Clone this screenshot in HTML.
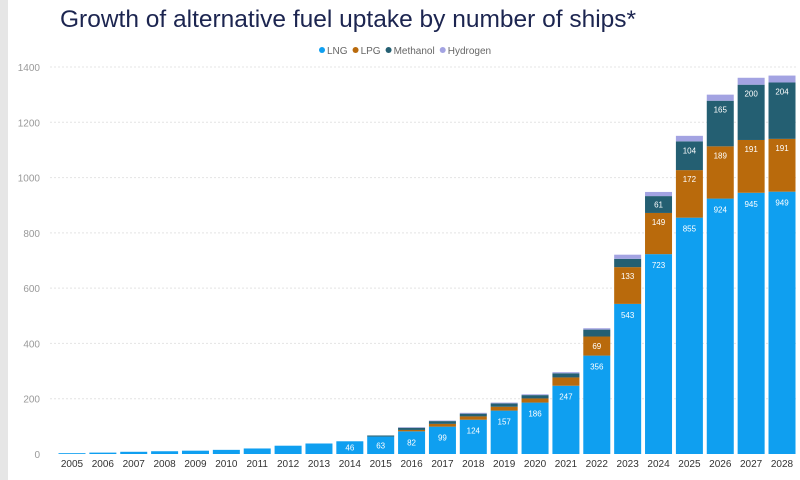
<!DOCTYPE html>
<html><head><meta charset="utf-8"><style>
body{margin:0;width:800px;height:480px;background:#fff;overflow:hidden;font-family:"Liberation Sans",sans-serif}
#edge{position:absolute;left:0;top:0;width:8px;height:480px;background:#e6e6e6}
h1{position:absolute;left:60px;top:6px;margin:0;font-size:24.5px;font-weight:normal;color:#1c2550}
</style></head><body>
<div id="edge"></div>
<h1>Growth of alternative fuel uptake by number of ships*</h1>
<svg id="c" width="800" height="480" style="position:absolute;left:0;top:0"></svg>
<script>
const years=['2005','2006','2007','2008','2009','2010','2011','2012','2013','2014','2015','2016','2017','2018','2019','2020','2021','2022','2023','2024','2025','2026','2027','2028'];
const lng=[3,5,8,10,12,15,20,30,38,46,63,82,99,124,157,186,247,356,543,723,855,924,945,949];
const lpg=[0,0,0,0,0,0,0,0,0,0,0,5,10,12,14,15,30,69,133,149,172,189,191,191];
const methanol=[0,0,0,0,0,0,0,0,0,0,4,8,10,10,12,12,15,25,30,61,104,165,200,204];
const hydrogen=[0,0,0,0,0,0,0,0,0,0,0,2,2,3,3,3,4,5,15,15,20,22,25,25];
const yTicks=[0,200,400,600,800,1000,1200,1400];
const labelMin=[40,60,60,0];
const series=[{n:'LNG',d:lng,c:'#0f9ff0'},{n:'LPG',d:lpg,c:'#b96a0c'},{n:'Methanol',d:methanol,c:'#245f72'},{n:'Hydrogen',d:hydrogen,c:'#a3a3e2'}];
const svg=document.getElementById('c'),NS='http://www.w3.org/2000/svg';
const y=v=>454-v*387/1400, x=i=>72+i*30.87, bw=27;
function mk(t,a,p){const e=document.createElementNS(NS,t);for(const k in a)e.setAttribute(k,a[k]);(p||svg).appendChild(e);return e;}
yTicks.forEach(t=>{
 if(t>0){const l=mk('line',{x1:50,x2:798,y1:y(t),y2:y(t),stroke:'#e4e4e4','stroke-dasharray':'2,2'});
 
 }
 const tx=mk('text',{x:40,y:y(t)+4,'text-anchor':'end','font-size':10,fill:'#999'});tx.textContent=t;
 
 
});
years.forEach((yr,i)=>{
 let base=0;
 series.forEach((s,si)=>{
  const v=s.d[i];if(v<=0)return;
  const h=y(base)-y(base+v);
  const r=mk('rect',{x:x(i)-bw/2,y:y(base+v),width:bw,height:h,fill:s.c});
  
  
  if(si<3&&v>=labelMin[si]){const ty=h<20?y(base+v)+h/2+3:y(base+v)+(si==0?14:12);
   const t=mk('text',{x:x(i),y:ty,'text-anchor':'middle','font-size':8,fill:'#fff'});t.textContent=v;
   
   }
  base+=v;
 });
 const t=mk('text',{x:x(i),y:467,'text-anchor':'middle','font-size':10,fill:'#333'});t.textContent=yr;
 
 
});
let lx=322;
series.forEach(s=>{
 const g=mk('g',{});
 
 
 mk('circle',{cx:lx,cy:50,r:3,fill:s.c},g);
 const t=mk('text',{x:lx+5,y:54,'font-size':10,fill:'#666'},g);t.textContent=s.n;
 lx+=t.getComputedTextLength()+13;
});
</script>
</body></html>
